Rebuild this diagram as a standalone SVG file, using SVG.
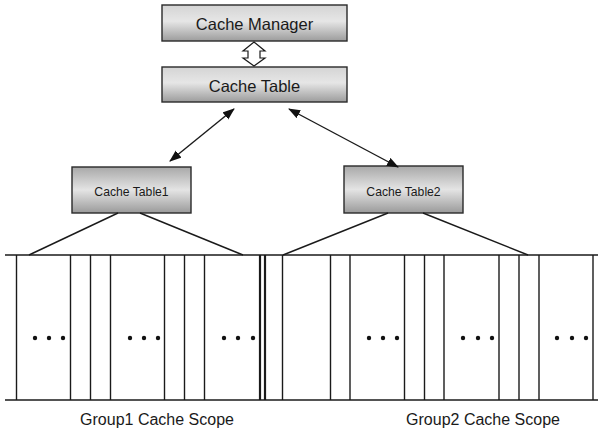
<svg xmlns="http://www.w3.org/2000/svg" width="598" height="431" viewBox="0 0 598 431">
  <style>
    .box { stroke: #2a2a2a; stroke-width: 1.4; }
    .lbl { font-family: "Liberation Sans", Arial, sans-serif; fill: #1a1a1a; text-anchor: middle; }
    .big { font-size: 16.5px; }
    .small { font-size: 12.2px; }
    .scope { font-size: 16px; }
    .ln { stroke: #1a1a1a; stroke-width: 1.4; fill: none; }
    .thick { stroke: #1a1a1a; stroke-width: 2.2; }
    .dot { fill: #111; }
  </style>
  <defs>
    <linearGradient id="gTop" x1="0" y1="0" x2="0" y2="1">
      <stop offset="0" stop-color="#d4d4d4"/>
      <stop offset="0.45" stop-color="#e6e6e6"/>
      <stop offset="1" stop-color="#9c9c9c"/>
    </linearGradient>
    <linearGradient id="gSub" x1="0" y1="0" x2="0" y2="1">
      <stop offset="0" stop-color="#a8a8a8"/>
      <stop offset="0.5" stop-color="#e4e4e4"/>
      <stop offset="1" stop-color="#9a9a9a"/>
    </linearGradient>
    <marker id="ah" viewBox="0 0 12 10" refX="11" refY="5" markerWidth="12" markerHeight="10" markerUnits="userSpaceOnUse" orient="auto-start-reverse">
      <path d="M0,0.5 L12,5 L0,9.5 Z" fill="#111"/>
    </marker>
  </defs>

  <!-- nodes -->
  <g id="cache-manager">
    <rect class="box" x="162" y="5" width="185" height="36" fill="url(#gTop)"/>
    <text class="lbl big" x="254.5" y="30">Cache Manager</text>
  </g>
  <g id="cache-table">
    <rect class="box" x="162" y="67" width="185" height="35" fill="url(#gTop)"/>
    <text class="lbl big" x="254.5" y="92">Cache Table</text>
  </g>
  <g id="cache-table1">
    <rect class="box" x="72" y="167" width="119" height="46" fill="url(#gSub)"/>
    <text class="lbl small" x="131.5" y="196">Cache Table1</text>
  </g>
  <g id="cache-table2">
    <rect class="box" x="344" y="166" width="119" height="47" fill="url(#gSub)"/>
    <text class="lbl small" x="403.5" y="196">Cache Table2</text>
  </g>

  <!-- connectors -->
  <g id="connectors">
    <!-- hollow two-way arrow between manager and table -->
    <path d="M254,42 L265,51 L260,51 L260,58 L265,58 L254,66 L243,58 L248,58 L248,51 L243,51 Z" fill="#fff" stroke="#1a1a1a" stroke-width="1.2"/>
    <line class="ln" x1="234" y1="109" x2="170" y2="161" marker-start="url(#ah)" marker-end="url(#ah)"/>
    <line class="ln" x1="289" y1="109" x2="398" y2="167" marker-start="url(#ah)" marker-end="url(#ah)"/>
    <!-- fan-out to group scopes -->
    <polyline class="ln" points="29,255 118,213"/>
    <polyline class="ln" points="140,213 243,255"/>
    <polyline class="ln" points="283,255 388,213"/>
    <polyline class="ln" points="423,213 528,255"/>
  </g>

  <!-- cache scope strip -->
  <g id="scope-strip">
    <line class="ln" x1="5" y1="255" x2="598" y2="255"/>
    <line class="ln" x1="5" y1="400" x2="598" y2="400"/>
    <g class="ln">
      <line x1="16.5" y1="255" x2="16.5" y2="400"/>
      <line x1="70.5" y1="255" x2="70.5" y2="400"/>
      <line x1="90.5" y1="255" x2="90.5" y2="400"/>
      <line x1="110.5" y1="255" x2="110.5" y2="400"/>
      <line x1="164.5" y1="255" x2="164.5" y2="400"/>
      <line x1="184.5" y1="255" x2="184.5" y2="400"/>
      <line x1="204.5" y1="255" x2="204.5" y2="400"/>
      <line x1="282.5" y1="255" x2="282.5" y2="400"/>
      <line x1="330.5" y1="255" x2="330.5" y2="400"/>
      <line x1="350" y1="255" x2="350" y2="400"/>
      <line x1="404.5" y1="255" x2="404.5" y2="400"/>
      <line x1="424.5" y1="255" x2="424.5" y2="400"/>
      <line x1="444" y1="255" x2="444" y2="400"/>
      <line x1="499" y1="255" x2="499" y2="400"/>
      <line x1="519" y1="255" x2="519" y2="400"/>
      <line x1="539" y1="255" x2="539" y2="400"/>
      <line x1="593" y1="255" x2="593" y2="400"/>
    </g>
    <line class="thick" x1="260" y1="255" x2="260" y2="400"/>
    <line class="thick" x1="265" y1="255" x2="265" y2="400"/>
    <g class="dot">
      <circle cx="35" cy="338" r="2.2"/><circle cx="49" cy="338" r="2.2"/><circle cx="63" cy="338" r="2.2"/>
      <circle cx="130" cy="338" r="2.2"/><circle cx="144" cy="338" r="2.2"/><circle cx="158" cy="338" r="2.2"/>
      <circle cx="224" cy="338" r="2.2"/><circle cx="238" cy="338" r="2.2"/><circle cx="253" cy="338" r="2.2"/>
      <circle cx="369" cy="338" r="2.2"/><circle cx="383" cy="338" r="2.2"/><circle cx="397" cy="338" r="2.2"/>
      <circle cx="463" cy="338" r="2.2"/><circle cx="478" cy="338" r="2.2"/><circle cx="492" cy="338" r="2.2"/>
      <circle cx="557" cy="338" r="2.2"/><circle cx="572" cy="338" r="2.2"/><circle cx="586" cy="338" r="2.2"/>
    </g>
    <text class="lbl scope" x="157" y="425">Group1 Cache Scope</text>
    <text class="lbl scope" x="483" y="425">Group2 Cache Scope</text>
  </g>
</svg>
